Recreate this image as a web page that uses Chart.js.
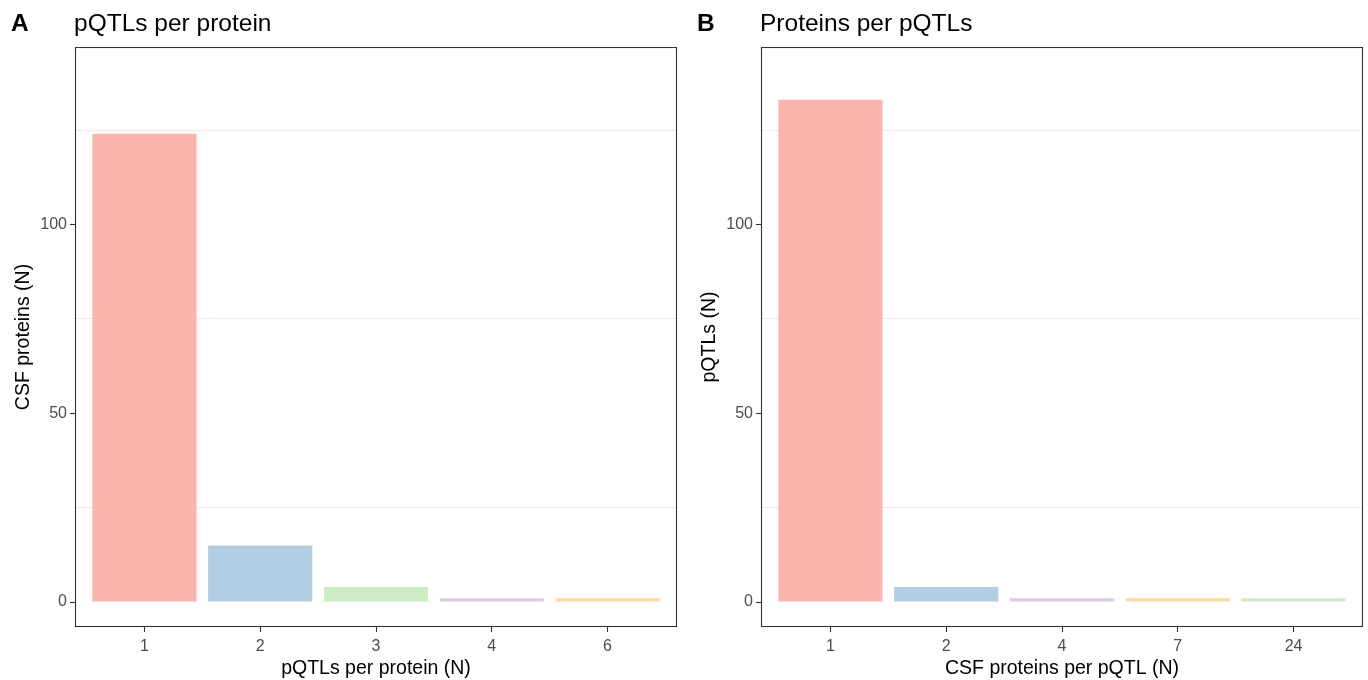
<!DOCTYPE html>
<html>
<head>
<meta charset="utf-8">
<script src="https://cdn.jsdelivr.net/npm/chart.js@4.4.1/dist/chart.umd.min.js"></script>
<style>
    body { margin: 0; background: #fff; font-family: "Liberation Sans", Arial, sans-serif; }
    .panel { position: absolute; top: 0; height: 680px; }
    .tag, .title { position: absolute; top: 11px; font-size: 24.5px; line-height: 24px; color: #000; }
    .tag { font-weight: bold; }
</style>
</head>
<body>
<div class="panel" style="left:0;width:684px;"><canvas id="chartA"></canvas></div>
<div class="panel" style="left:686px;width:682px;"><canvas id="chartB"></canvas></div>
<div class="tag" style="left:11px;">A</div>
<div class="title" style="left:74px;">pQTLs per protein</div>
<div class="tag" style="left:697px;">B</div>
<div class="title" style="left:760px;">Proteins per pQTLs</div>

<script>
// panel A
const pqtlCategories = ['1', '2', '3', '4', '6'];
const proteinCounts = [124, 15, 4, 1, 1];
const colorsA = ['#FBB4AE', '#B3CDE3', '#CCEBC5', '#DECBE4', '#FED9A6'];

// panel B
const proteinCategories = ['1', '2', '4', '7', '24'];
const pqtlCounts = [133, 4, 1, 1, 1];
const colorsB = ['#FBB4AE', '#B3CDE3', '#DECBE4', '#FED9A6', '#CCEBC5'];

const yTicks = [0, 25, 50, 75, 100, 125];
const yMin = -6.6, yMax = 147;

const FONT = '"Liberation Sans", Arial, sans-serif';

const borderPlugin = {
    id: 'panelBorder',
    afterDatasetsDraw(chart) {
        const a = chart.chartArea;
        const ctx = chart.ctx;
        ctx.save();
        ctx.strokeStyle = '#333333';
        ctx.lineWidth = 1.1;
        ctx.strokeRect(a.left + 0.5, a.top + 0.5, a.right - a.left - 1, a.bottom - a.top - 1);
        ctx.restore();
    }
};

function makeChart(id, cats, values, colors, xTitle, yTitle, rightPad) {
    const ctx = document.getElementById(id).getContext('2d');
    return new Chart(ctx, {
        type: 'bar',
        data: {
            datasets: [{
                data: values.map((v, i) => ({ x: i + 1, y: v })),
                backgroundColor: colors,
                borderWidth: 0,
                categoryPercentage: 1,
                barPercentage: 0.9
            }]
        },
        options: {
            responsive: true,
            maintainAspectRatio: false,
            animation: false,
            layout: { padding: { top: 47, right: rightPad, left: 0, bottom: 0 } },
            plugins: {
                legend: { display: false },
                tooltip: { enabled: false }
            },
            scales: {
                x: {
                    type: 'linear',
                    offset: false,
                    min: 0.4,
                    max: cats.length + 0.6,
                    afterBuildTicks: s => { s.ticks = cats.map((c, i) => ({ value: i + 1 })); },
                    afterFit: s => { s.height = 53; },
                    border: { display: false },
                    grid: { offset: false, drawOnChartArea: false, drawTicks: true, tickLength: 5, tickColor: '#333333', tickWidth: 1.1 },
                    ticks: {
                        callback: v => cats[v - 1],
                        color: '#4D4D4D',
                        font: { family: FONT, size: 16 },
                        padding: 5,
                        maxRotation: 0
                    },
                    title: {
                        display: true,
                        text: xTitle,
                        color: '#000',
                        font: { family: FONT, size: 19.5 },
                        padding: { top: 0, bottom: 0 }
                    }
                },
                y: {
                    min: yMin,
                    max: yMax,
                    afterBuildTicks: s => { s.ticks = yTicks.map(v => ({ value: v })); },
                    afterFit: s => { s.width = 75; },
                    border: { display: false },
                    grid: {
                        color: c => (c.tick && c.tick.value % 50 === 25) ? '#EBEBEB' : 'rgba(0,0,0,0)',
                        lineWidth: 1,
                        tickLength: 5,
                        tickColor: c => (c.tick && c.tick.value % 50 === 0) ? '#333333' : 'rgba(0,0,0,0)',
                        tickWidth: 1.1
                    },
                    ticks: {
                        callback: v => (v % 50 === 0 ? v : ''),
                        color: '#4D4D4D',
                        font: { family: FONT, size: 16 },
                        padding: 3
                    },
                    title: {
                        display: true,
                        text: yTitle,
                        color: '#000',
                        font: { family: FONT, size: 19.5 },
                        padding: { top: 12, bottom: 0 }
                    }
                }
            }
        },
        plugins: [borderPlugin]
    });
}

makeChart('chartA', pqtlCategories, proteinCounts, colorsA, 'pQTLs per protein (N)', 'CSF proteins (N)', 7);
makeChart('chartB', proteinCategories, pqtlCounts, colorsB, 'CSF proteins per pQTL (N)', 'pQTLs (N)', 5);
</script>
</body>
</html>
